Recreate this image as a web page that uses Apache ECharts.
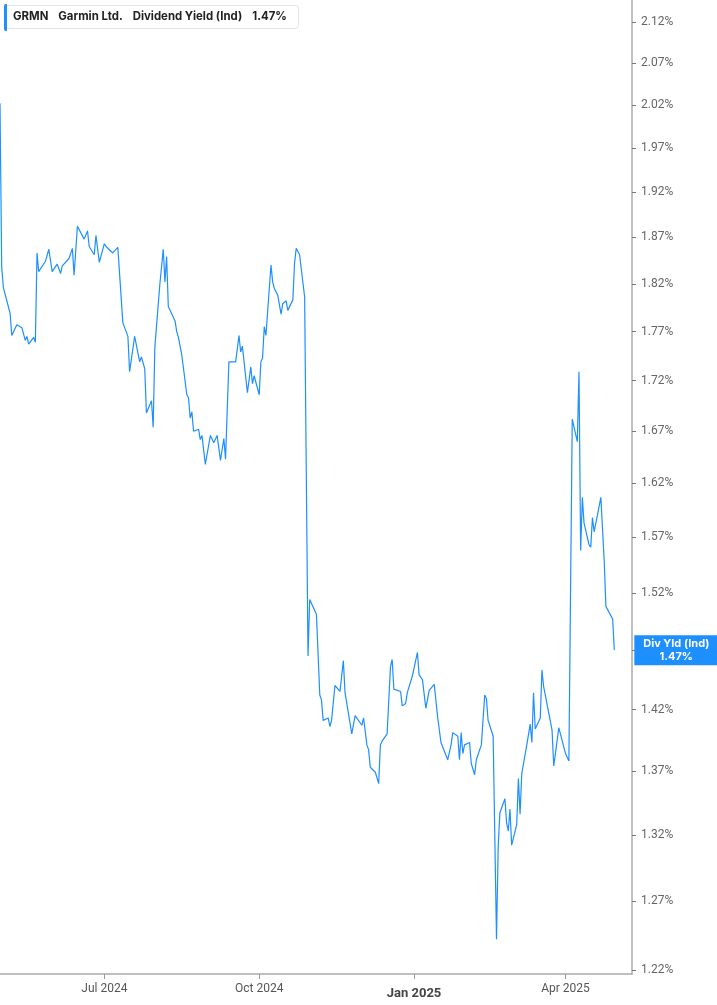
<!DOCTYPE html>
<html>
<head>
<meta charset="utf-8">
<script src="https://cdn.jsdelivr.net/npm/echarts@6/dist/echarts.min.js"></script>
<style>
  html, body { margin: 0; padding: 0; background: #fff; }
  #chart { width: 717px; height: 1005px; }
</style>
</head>
<body>
<div id="chart"></div>
<script>
const dates = [
  '2024-04-30', '2024-05-01', '2024-05-02', '2024-05-06', '2024-05-07', '2024-05-08', '2024-05-10', '2024-05-13',
  '2024-05-15', '2024-05-16', '2024-05-17', '2024-05-20', '2024-05-21', '2024-05-22', '2024-05-23', '2024-05-27',
  '2024-05-29', '2024-05-31', '2024-06-03', '2024-06-05', '2024-06-06', '2024-06-10', '2024-06-12', '2024-06-13',
  '2024-06-15', '2024-06-19', '2024-06-21', '2024-06-22', '2024-06-25', '2024-06-26', '2024-06-28', '2024-07-01',
  '2024-07-02', '2024-07-03', '2024-07-06', '2024-07-09', '2024-07-10', '2024-07-12', '2024-07-15', '2024-07-16',
  '2024-07-19', '2024-07-22', '2024-07-23', '2024-07-25', '2024-07-26', '2024-07-29', '2024-07-30', '2024-07-31',
  '2024-08-01', '2024-08-03', '2024-08-05', '2024-08-06', '2024-08-07', '2024-08-08', '2024-08-12', '2024-08-13',
  '2024-08-14', '2024-08-16', '2024-08-19', '2024-08-20', '2024-08-21', '2024-08-22', '2024-08-23', '2024-08-26',
  '2024-08-27', '2024-08-28', '2024-08-30', '2024-09-02', '2024-09-04', '2024-09-06', '2024-09-08', '2024-09-10',
  '2024-09-11', '2024-09-12', '2024-09-13', '2024-09-17', '2024-09-19', '2024-09-20', '2024-09-21', '2024-09-24',
  '2024-09-25', '2024-09-26', '2024-09-27', '2024-09-28', '2024-10-01', '2024-10-02', '2024-10-03', '2024-10-04',
  '2024-10-05', '2024-10-08', '2024-10-09', '2024-10-10', '2024-10-12', '2024-10-14', '2024-10-15', '2024-10-16',
  '2024-10-17', '2024-10-18', '2024-10-21', '2024-10-22', '2024-10-23', '2024-10-25', '2024-10-28', '2024-10-29',
  '2024-10-30', '2024-10-31', '2024-11-01', '2024-11-04', '2024-11-06', '2024-11-07', '2024-11-08', '2024-11-11',
  '2024-11-12', '2024-11-13', '2024-11-15', '2024-11-18', '2024-11-20', '2024-11-21', '2024-11-25', '2024-11-27',
  '2024-12-01', '2024-12-02', '2024-12-04', '2024-12-05', '2024-12-06', '2024-12-09', '2024-12-10', '2024-12-11',
  '2024-12-12', '2024-12-13', '2024-12-16', '2024-12-18', '2024-12-19', '2024-12-20', '2024-12-24', '2024-12-25',
  '2024-12-27', '2024-12-28', '2024-12-31', '2025-01-03', '2025-01-04', '2025-01-06', '2025-01-08', '2025-01-10',
  '2025-01-13', '2025-01-15', '2025-01-17', '2025-01-21', '2025-01-23', '2025-01-24', '2025-01-27', '2025-01-28',
  '2025-01-29', '2025-01-30', '2025-01-31', '2025-02-03', '2025-02-04', '2025-02-06', '2025-02-07', '2025-02-10',
  '2025-02-12', '2025-02-13', '2025-02-14', '2025-02-17', '2025-02-19', '2025-02-20', '2025-02-21', '2025-02-24',
  '2025-02-25', '2025-02-26', '2025-02-27', '2025-02-28', '2025-03-03', '2025-03-04', '2025-03-05', '2025-03-06',
  '2025-03-09', '2025-03-11', '2025-03-12', '2025-03-13', '2025-03-14', '2025-03-17', '2025-03-18', '2025-03-19',
  '2025-03-20', '2025-03-24', '2025-03-25', '2025-03-26', '2025-03-27', '2025-03-28', '2025-04-01', '2025-04-03',
  '2025-04-05', '2025-04-08', '2025-04-09', '2025-04-10', '2025-04-11', '2025-04-12', '2025-04-15', '2025-04-16',
  '2025-04-17', '2025-04-18', '2025-04-22', '2025-04-24', '2025-04-25', '2025-04-26', '2025-04-29', '2025-04-30'
];

// dividend yield (ind), percent
const yields = [
  2.022, 1.838, 1.816, 1.789, 1.766, 1.766, 1.777, 1.774,
  1.761, 1.765, 1.757, 1.764, 1.759, 1.853, 1.833, 1.844,
  1.857, 1.833, 1.841, 1.831, 1.839, 1.847, 1.858, 1.829,
  1.882, 1.868, 1.877, 1.860, 1.851, 1.872, 1.843, 1.863,
  1.860, 1.862, 1.853, 1.859, 1.858, 1.779, 1.765, 1.729,
  1.765, 1.739, 1.744, 1.732, 1.688, 1.700, 1.674, 1.754,
  1.755, 1.820, 1.857, 1.822, 1.849, 1.796, 1.781, 1.770,
  1.764, 1.746, 1.706, 1.703, 1.683, 1.689, 1.670, 1.672,
  1.662, 1.666, 1.638, 1.666, 1.659, 1.666, 1.642, 1.663,
  1.643, 1.643, 1.739, 1.739, 1.766, 1.749, 1.755, 1.708,
  1.708, 1.734, 1.717, 1.725, 1.706, 1.739, 1.743, 1.775,
  1.766, 1.840, 1.822, 1.815, 1.808, 1.788, 1.799, 1.798,
  1.802, 1.792, 1.803, 1.842, 1.858, 1.851, 1.806, 1.805,
  1.465, 1.514, 1.515, 1.501, 1.432, 1.428, 1.411, 1.413,
  1.406, 1.411, 1.440, 1.435, 1.461, 1.434, 1.400, 1.415,
  1.407, 1.413, 1.391, 1.387, 1.373, 1.369, 1.369, 1.360,
  1.391, 1.394, 1.400, 1.456, 1.462, 1.437, 1.435, 1.423,
  1.425, 1.434, 1.448, 1.468, 1.449, 1.445, 1.421, 1.436,
  1.441, 1.414, 1.393, 1.379, 1.391, 1.401, 1.398, 1.379,
  1.401, 1.384, 1.391, 1.393, 1.376, 1.367, 1.379, 1.391,
  1.432, 1.429, 1.411, 1.398, 1.242, 1.311, 1.337, 1.348,
  1.329, 1.323, 1.340, 1.312, 1.328, 1.364, 1.336, 1.368,
  1.391, 1.408, 1.393, 1.434, 1.404, 1.413, 1.453, 1.439,
  1.438, 1.403, 1.374, 1.384, 1.384, 1.405, 1.384, 1.378,
  1.682, 1.660, 1.729, 1.558, 1.607, 1.583, 1.563, 1.561,
  1.588, 1.575, 1.607, 1.548, 1.508, 1.509, 1.497, 1.470
];

const yTicks = [1.22, 1.27, 1.32, 1.37, 1.42, 1.47, 1.52, 1.57, 1.62, 1.67, 1.72, 1.77, 1.82, 1.87, 1.92, 1.97, 2.02, 2.07, 2.12];
const xTickDates = ['2024-07-01', '2024-10-01', '2025-01-01', '2025-04-01'];
const xTickLabels = ['Jul 2024', 'Oct 2024', 'Jan 2025', 'Apr 2025'];

const blue = '#1e8fff';
const lastIdx = yields.length - 1;
const toTime = (d) => +echarts.time.parse(d);

const chart = echarts.init(document.getElementById('chart'));
const xTickValues = xTickDates.map(toTime);

chart.setOption({
  animation: false,
  title: {
    left: 4,
    top: 4,
    padding: [6, 12, 6, 9],
    backgroundColor: '#fff',
    borderColor: '#e3e3e3',
    borderWidth: 1,
    borderRadius: 3,
    text: '{a|GRMN}{g| }{a|Garmin Ltd.}{g| }{b|Dividend Yield (Ind)}{g| }{a|' + yields[lastIdx].toFixed(2) + '%}',
    textStyle: {
      rich: {
        a: { fontFamily: 'Inter', fontSize: 11.4, fontWeight: 'bold', color: '#222', lineHeight: 14 },
        b: { fontFamily: 'Inter', fontSize: 11.4, color: '#222', lineHeight: 14 },
        g: { width: 10, fontSize: 11.4 }
      }
    }
  },
  graphic: [{
    type: 'rect',
    left: 4,
    top: 4,
    shape: { width: 3, height: 27, r: [2, 0, 0, 2] },
    style: { fill: blue },
    z: 100
  }],
  grid: {
    left: 0,
    right: 85,
    top: 0,
    bottom: 31
  },
  xAxis: {
    type: 'value',
    min: toTime('2024-04-30'),
    max: toTime('2025-05-10 12:00'),
    axisLine: { lineStyle: { color: '#aaa', width: 1.5 } },
    axisTick: {
      customValues: xTickValues,
      length: 5,
      lineStyle: { color: '#999' }
    },
    axisLabel: {
      customValues: xTickValues,
      margin: 9,
      fontFamily: 'Roboto',
      fontSize: 12,
      color: '#555',
      formatter: (val) => {
        const i = xTickValues.indexOf(val);
        const text = i >= 0 ? xTickLabels[i] : '';
        return text.startsWith('Jan') ? '{y|' + text + '}' : text;
      },
      rich: {
        y: { fontFamily: 'Roboto', fontSize: 13, fontWeight: 'bold', color: '#444', padding: [4, 0, 0, 0] }
      }
    },
    splitLine: { show: false }
  },
  yAxis: {
    type: 'log',
    logBase: 10,
    position: 'right',
    min: 1.2171,
    max: 2.1474,
    axisLine: { show: true, lineStyle: { color: '#aaa', width: 1.5 } },
    axisTick: {
      show: true,
      customValues: yTicks,
      length: 4,
      lineStyle: { color: '#777' }
    },
    axisLabel: {
      customValues: yTicks,
      margin: 9,
      fontFamily: 'Roboto',
      fontSize: 12,
      color: '#666',
      formatter: (val) => (+val).toFixed(2) + '%'
    },
    splitLine: { show: false }
  },
  series: [{
    name: 'Div Yld (Ind)',
    type: 'line',
    data: dates.map((d, i) => [toTime(d), yields[i]]),
    showSymbol: false,
    clip: false,
    lineStyle: { color: blue, width: 1.2 },
    itemStyle: { color: blue },
    markPoint: {
      symbol: 'rect',
      symbolSize: [84, 30],
      symbolOffset: [62, 0],
      silent: true,
      itemStyle: { color: blue },
      label: {
        show: true,
        position: 'inside',
        color: '#fff',
        fontFamily: 'Inter',
        fontSize: 11,
        fontWeight: 'bold',
        lineHeight: 13,
        formatter: () => 'Div Yld (Ind)\n' + yields[lastIdx].toFixed(2) + '%'
      },
      data: [{ coord: [toTime(dates[lastIdx]), yields[lastIdx]] }]
    }
  }]
});

window.addEventListener('resize', () => chart.resize());
</script>
</body>
</html>
